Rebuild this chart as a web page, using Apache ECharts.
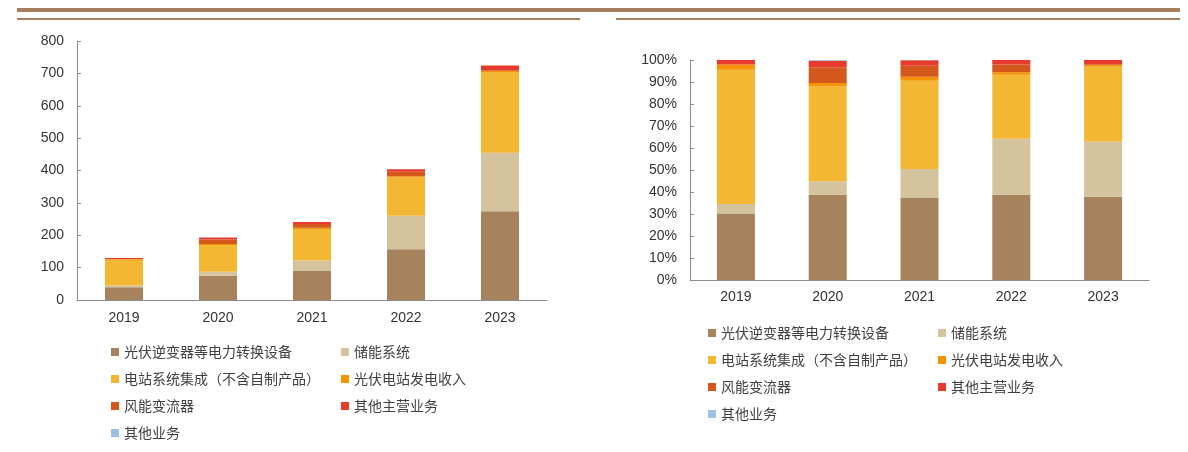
<!DOCTYPE html>
<html>
<head>
<meta charset="utf-8">
<script src="https://cdn.jsdelivr.net/npm/echarts@6/dist/echarts.min.js"></script>
<style>
    html, body { margin: 0; padding: 0; background: #fff; }
    #chart { width: 1188px; height: 452px; }
</style>
</head>
<body>
<div id="chart"></div>
<script>
    // 年份
    let years = ['2019', '2020', '2021', '2022', '2023']
    let names = ['光伏逆变器等电力转换设备', '储能系统', '电站系统集成（不含自制产品）', '光伏电站发电收入', '风能变流器', '其他主营业务', '其他业务']
    let colors = ['#A6835C', '#D4C39D', '#F4B734', '#F59300', '#D4581C', '#E53A2C', '#9DBFE4']

    // 收入（亿元）
    let invVal = [39, 75, 91, 157, 274]
    let storVal = [6, 12, 31, 103, 181]
    let sysVal = [79, 83, 97, 118, 249]
    let pvVal = [3, 3, 4, 4, 3]
    let windVal = [0, 14, 12, 14, 2]
    let mainVal = [3, 6, 6, 8, 15]
    let otherVal = [0, 0.6, 0.3, 0, 0]

    // 占比（%）
    let invPct = [30.2, 38.8, 37.5, 38.8, 37.8]
    let storPct = [4.4, 6.1, 13.0, 25.4, 25.0]
    let sysPct = [61.0, 43.0, 40.1, 29.1, 34.5]
    let pvPct = [2.3, 1.6, 1.8, 1.1, 0.4]
    let windPct = [0, 7.2, 5.0, 3.5, 0.2]
    let mainPct = [2.1, 3.0, 2.5, 2.1, 2.1]
    let otherPct = [0, 0.3, 0.1, 0, 0]

    let valData = [invVal, storVal, sysVal, pvVal, windVal, mainVal, otherVal]
    let pctData = [invPct, storPct, sysPct, pvPct, windPct, mainPct, otherPct]

    let axisFont = { fontFamily: 'Liberation Sans', fontSize: 14, color: '#333' }
    let axisLine = { show: true, lineStyle: { color: '#8c8c8c', width: 1 } }

    let series = []
    for (let i = 0; i < names.length; i++) {
        series.push({
            name: names[i], type: 'bar', stack: 'a', xAxisIndex: 0, yAxisIndex: 0,
            barWidth: 38, data: valData[i], itemStyle: { color: colors[i] }
        })
        series.push({
            name: names[i], type: 'bar', stack: 'b', xAxisIndex: 1, yAxisIndex: 1,
            barWidth: 38, data: pctData[i], itemStyle: { color: colors[i] }
        })
    }

    let legendText = { fontFamily: 'Noto Sans CJK SC', fontSize: 14, color: '#404040', lineHeight: 16 }
    let makeLegend = function (left, top, data) {
        return {
            orient: 'vertical', left: left, top: top, itemWidth: 8, itemHeight: 8,
            itemGap: 11, icon: 'rect', data: data, textStyle: legendText, selectedMode: false
        }
    }
    let col1 = [names[0], names[2], names[4], names[6]]
    let col2 = [names[1], names[3], names[5]]

    let myChart = echarts.init(document.getElementById('chart'))
    const option = {
        animation: false,
        grid: [
            { left: 77, right: 641, top: 41, bottom: 152 },
            { left: 690, right: 39, top: 60, bottom: 172 }
        ],
        xAxis: [
            {
                type: 'category', gridIndex: 0, data: years, axisLine: axisLine,
                axisTick: { inside: true, length: 5, lineStyle: { color: '#8c8c8c' } },
                axisLabel: Object.assign({ margin: 11 }, axisFont)
            },
            {
                type: 'category', gridIndex: 1, data: years, axisLine: axisLine,
                axisTick: { inside: true, length: 5, lineStyle: { color: '#8c8c8c' } },
                axisLabel: Object.assign({ margin: 10 }, axisFont)
            }
        ],
        yAxis: [
            {
                type: 'value', gridIndex: 0, min: 0, max: 800, interval: 100,
                axisLine: axisLine, splitLine: { show: false },
                axisTick: { show: true, inside: true, length: 4, lineStyle: { color: '#8c8c8c' } },
                axisLabel: Object.assign({ margin: 13 }, axisFont)
            },
            {
                type: 'value', gridIndex: 1, min: 0, max: 100, interval: 10,
                axisLine: axisLine, splitLine: { show: false },
                axisTick: { show: true, inside: true, length: 4, lineStyle: { color: '#8c8c8c' } },
                axisLabel: Object.assign({ margin: 13, formatter: '{value}%' }, axisFont)
            }
        ],
        legend: [
            makeLegend(106, 339, col1),
            makeLegend(336, 339, col2),
            makeLegend(703, 320, col1),
            makeLegend(933, 320, col2)
        ],
        graphic: [
            { type: 'rect', shape: { x: 17, y: 8, width: 1163, height: 4 }, style: { fill: '#A6805D' } },
            { type: 'rect', shape: { x: 17, y: 18, width: 563, height: 2 }, style: { fill: '#A6805D' } },
            { type: 'rect', shape: { x: 616, y: 18, width: 564, height: 2 }, style: { fill: '#A6805D' } }
        ],
        series: series
    }
    myChart.setOption(option)
</script>
</body>
</html>
